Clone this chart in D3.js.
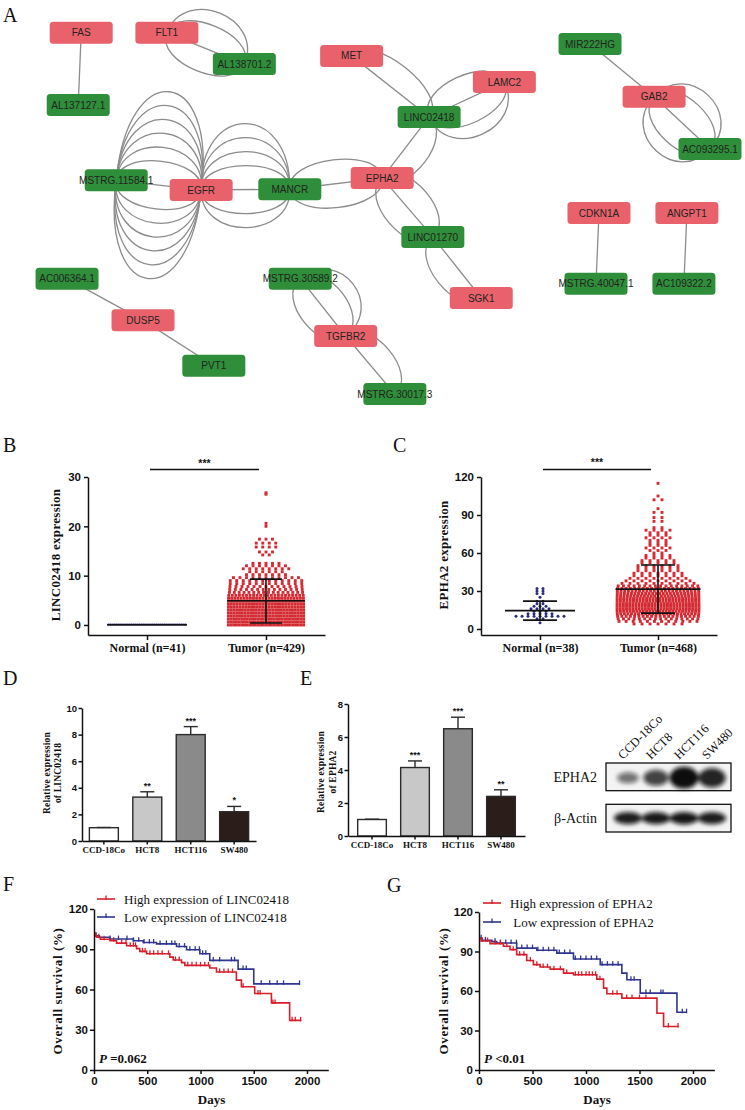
<!DOCTYPE html>
<html><head><meta charset="utf-8">
<script src="https://cdn.jsdelivr.net/npm/d3@7/dist/d3.min.js"></script>
<style>html,body{margin:0;padding:0;background:#fff}svg{display:block}</style>
</head><body>
<svg id="fig" width="745" height="1110" xmlns="http://www.w3.org/2000/svg"></svg>
<script>
// ================= DATA =================
const panelLetters = ["A","B","C","D","E","F","G"];

// ---- Panel A: lncRNA–mRNA network (layout coordinates, % of width) ----
const nodeNames = ["FAS","FLT1","AL138701.2","AL137127.1","MSTRG.11584.1","EGFR","MANCR","MET","LAMC2","LINC02418","EPHA2","LINC01270","SGK1","MIR222HG","GAB2","AC093295.1","CDKN1A","ANGPT1","MSTRG.40047.1","AC109322.2","AC006364.1","DUSP5","PVT1","MSTRG.30589.2","TGFBR2","MSTRG.30017.3"];
const nodeKinds = ["mRNA","mRNA","lncRNA","lncRNA","lncRNA","mRNA","lncRNA","mRNA","mRNA","lncRNA","mRNA","lncRNA","mRNA","lncRNA","mRNA","lncRNA","mRNA","mRNA","lncRNA","lncRNA","lncRNA","mRNA","lncRNA","lncRNA","mRNA","lncRNA"];
const nodeLayoutX = [10.9,22.4,32.8,10.5,15.6,27.0,38.9,47.2,67.7,57.6,51.3,58.1,64.6,79.2,87.8,95.3,80.4,92.2,80.0,91.8,9.0,19.2,28.7,40.3,46.4,53.0];
const nodeLayoutY = [4.4,4.4,8.6,14.1,24.2,25.5,25.4,7.5,11.0,15.7,23.9,31.8,40.0,5.9,13.0,20.0,28.6,28.6,38.1,38.1,37.4,43.0,49.1,37.4,45.1,52.9];
// [source, target, parallel-edge lane]
const edgeList = [
 ["FAS","AL137127.1",0],
 ["FLT1","AL138701.2",0],["FLT1","AL138701.2",-1],["FLT1","AL138701.2",-2],["FLT1","AL138701.2",1],
 ["MET","LINC02418",0],["MET","LINC02418",-1],
 ["LINC02418","LAMC2",0],["LINC02418","LAMC2",-1],["LINC02418","LAMC2",1],["LINC02418","LAMC2",2],
 ["LINC02418","EPHA2",0],["LINC02418","EPHA2",-1],
 ["MANCR","EPHA2",0],["MANCR","EPHA2",-1],["MANCR","EPHA2",1],
 ["EPHA2","LINC01270",0],["EPHA2","LINC01270",-1],["EPHA2","LINC01270",1],
 ["LINC01270","SGK1",0],["LINC01270","SGK1",1],
 ["MSTRG.11584.1","EGFR",0],
 ["MSTRG.11584.1","EGFR",1],["MSTRG.11584.1","EGFR",2],["MSTRG.11584.1","EGFR",3],["MSTRG.11584.1","EGFR",4],["MSTRG.11584.1","EGFR",5],["MSTRG.11584.1","EGFR",6],
 ["MSTRG.11584.1","EGFR",-1],["MSTRG.11584.1","EGFR",-2],["MSTRG.11584.1","EGFR",-3],["MSTRG.11584.1","EGFR",-4],["MSTRG.11584.1","EGFR",-5],["MSTRG.11584.1","EGFR",-6],
 ["EGFR","MANCR",0],["EGFR","MANCR",-1],["EGFR","MANCR",-2],["EGFR","MANCR",-3],["EGFR","MANCR",-4],["EGFR","MANCR",1],["EGFR","MANCR",2],
 ["MIR222HG","GAB2",0],
 ["GAB2","AC093295.1",0],["GAB2","AC093295.1",1],["GAB2","AC093295.1",2],["GAB2","AC093295.1",-1],["GAB2","AC093295.1",-2],
 ["CDKN1A","MSTRG.40047.1",0],
 ["ANGPT1","AC109322.2",0],
 ["AC006364.1","DUSP5",0],
 ["DUSP5","PVT1",0],
 ["MSTRG.30589.2","TGFBR2",0],["MSTRG.30589.2","TGFBR2",1],["MSTRG.30589.2","TGFBR2",-1],["MSTRG.30589.2","TGFBR2",-2],
 ["TGFBR2","MSTRG.30017.3",0],["TGFBR2","MSTRG.30017.3",-1]
];

// ---- Panel B: LINC02418 expression (value row, number of samples) ----
const bGroups = ["Normal (n=41)","Tumor (n=429)"];
const bTicks = [0,10,20,30];
const bNormalRows = [[0.08,41]];
const bTumorRows = [[0,29],[0.6,29],[1.2,29],[1.8,28],[2.4,28],[3.0,28],[3.6,27],[4.2,27],[4.8,26],[5.4,25],[6.0,22],[6.6,16],[7.2,14],[7.8,13],[8.4,12],[9.0,12],[9.6,11],[10.2,7],[10.8,6],[11.4,8],[12.0,7],[12.5,5],[14.2,2],[14.8,3],[15.8,4],[16.6,4],[17.4,3],[20.0,1],[20.6,1],[26.5,1],[26.8,1]];
const bStats = [[0.05,0.05,0.05],[4.9,0.4,9.3]]; // mean, mean-SD, mean+SD
const bSig = "***";

// ---- Panel C: EPHA2 expression ----
const cGroups = ["Normal (n=38)","Tumor (n=468)"];
const cTicks = [0,30,60,90,120];
const cNormalRows = [[32,2],[30,2],[28,2],[25,1],[22,2],[20,2],[18,3],[16,4],[14,3],[12,5],[10,9],[8,2],[5,1]];
const cTumorRows = [[4,7],[6,12],[8,16],[10,20],[12,24],[14,26],[16,27],[18,27],[20,27],[22,26],[24,26],[26,25],[28,24],[30,23],[32,20],[34,16],[36,10],[38,9],[40,8],[42,7],[44,7],[46,6],[48,6],[50,6],[52,5],[54,5],[56,4],[58,4],[60,2],[62,3],[64,4],[66,3],[68,3],[70,3],[72,4],[74,3],[76,3],[78,4],[80,2],[85,2],[88,2],[92,2],[95,1],[102,2],[105,1],[115,1]];
const cStats = [[14.5,7,22],[31.5,12.5,50.5]];
const cSig = "***";

// ---- Panels D / E: qRT-PCR in cell lines ----
const cellLines = ["CCD-18Co","HCT8","HCT116","SW480"];
const dTicks = [0,2,4,6,8,10];
const dValues = [1.0,3.3,8.0,2.2];
const dErrors = [0.02,0.4,0.6,0.4];
const dStars = ["","**","***","*"];
const eTicks = [0,2,4,6,8];
const eValues = [1.0,4.15,6.5,2.4];
const eErrors = [0.02,0.4,0.7,0.4];
const eStars = ["","***","***","**"];

// ---- Western blot band intensities (relative) ----
const blotRows = ["EPHA2","β-Actin"];
const epha2Bands = [0.35,0.65,1.0,0.85];
const actinBands = [0.9,0.92,0.94,0.9];

// ---- Panels F / G: Kaplan–Meier curves [day, survival %] ----
const kmTicksX = [0,500,1000,1500,2000];
const kmTicksY = [0,30,60,90,120];
const fHigh = [[0,100],[25,99],[60,97.5],[150,96.3],[212,94.6],[306,92.6],[400,90.5],[430,88.4],[494,86.6],[712,84.1],[744,82],[822,80],[853,78],[1087,76],[1150,73],[1337,67],[1384,62],[1509,57],[1666,50],[1837,37],[1947,37]];
const fHighCensor = [15,45,95,185,260,300,340,370,390,455,480,525,560,600,640,700,765,800,880,920,960,1000,1040,1075,1180,1220,1260,1300,1400,1540,1560,1680,1700,1860,1890,1940];
const fLow = [[0,100],[50,99],[150,97.6],[370,96.3],[462,95],[587,94],[775,92],[869,89.6],[994,86.6],[1087,81.7],[1353,75.2],[1500,64.2],[1931,64.2]];
const fLowCensor = [20,150,230,310,370,420,470,520,560,620,680,730,760,800,850,900,950,990,1020,1050,1120,1180,1290,1320,1400,1430,1570,1650,1720,1780,1930];
const fLegend = ["High expression of LINC02418","Low expression of LINC02418"];
const fP = "=0.062";
const gHigh = [[0,100],[20,98],[103,96],[228,94],[290,91.4],[352,87.6],[446,83.2],[508,80],[571,78.2],[665,76.6],[790,73.6],[883,72.3],[1101,69],[1164,62.2],[1195,57.9],[1335,54.6],[1663,43.1],[1725,33],[1866,33]];
const gHighCensor = [30,80,150,200,260,320,380,420,480,540,600,640,700,760,820,900,930,960,1000,1030,1060,1090,1130,1250,1290,1380,1430,1500,1560,1770,1860];
const gLow = [[0,100],[30,98.5],[120,97.5],[165,96.4],[352,92.6],[540,90.9],[727,88.8],[883,84.3],[1133,80],[1335,73.6],[1382,68.5],[1507,58.4],[1850,43.9],[1944,43.9]];
const gLowCensor = [20,60,150,200,250,300,350,400,450,500,550,600,650,700,750,800,850,900,950,1000,1050,1100,1150,1200,1250,1300,1420,1450,1560,1600,1700,1720,1900,1940];
const gLegend = ["High expression of EPHA2","\u00a0Low expression of EPHA2"];
const gP = "<0.01";

// ================= DRAWING =================
const SERIF = "'Liberation Serif','Times New Roman',Times,serif";
const SANS = "'Liberation Sans',Arial,Helvetica,sans-serif";
const RED = "#d42a32", NAVY = "#2e2e7e", KMRED = "#d81e2a", KMBLUE = "#2f3590";
const svg = d3.select('#fig');
svg.append('rect').attr('width',745).attr('height',1110).attr('fill','#fff');
const defs = svg.append('defs');
defs.append('filter').attr('id','blur').attr('x','-50%').attr('y','-80%').attr('width','200%').attr('height','260%')
  .append('feGaussianBlur').attr('stdDeviation',2.2);

// panel letters
const letterPos = {A:[3,22],B:[3,452],C:[393,452],D:[3,685],E:[300,685],F:[3,891],G:[387,892]};
svg.append('g').selectAll('text').data(panelLetters).join('text')
  .attr('x',l=>letterPos[l][0]).attr('y',l=>letterPos[l][1])
  .attr('font-family',SERIF).attr('font-size',20).attr('fill','#111').text(l=>l);

function styleAxis(g, fs, family, weight){
  g.select('path.domain').attr('stroke','#111').attr('stroke-width',1.5);
  g.selectAll('.tick line').attr('stroke','#111').attr('stroke-width',1.5);
  g.selectAll('.tick text').attr('font-family',family||SANS).attr('font-weight',weight||'bold')
    .attr('font-size',fs).attr('fill','#111');
}

// ---------- Panel A ----------
(function(){
  const ax = d3.scaleLinear([0,100],[0,745]);
  const ay = d3.scaleLinear([0,100],[0,745]);
  const pos = new Map(nodeNames.map((n,i)=>[n,[ax(nodeLayoutX[i]), ay(nodeLayoutY[i])]]));
  const g = svg.append('g');
  g.append('g').selectAll('path').data(edgeList).join('path')
    .attr('d',([s,t,k])=>{
      const [x1,y1]=pos.get(s),[x2,y2]=pos.get(t);
      const p = d3.path();
      p.moveTo(x1,y1);
      if(k===0){ p.lineTo(x2,y2); return p.toString(); }
      const dx=x2-x1, dy=y2-y1, L=Math.hypot(dx,dy);
      const ux=dx/L, uy=dy/L, px=-uy, py=ux;
      const dev = Math.sign(k)*(10+14*Math.abs(k));
      const h = dev/0.75, sp = 0.02*Math.abs(h);
      p.bezierCurveTo(x1+px*h-ux*sp, y1+py*h-uy*sp, x2+px*h+ux*sp, y2+py*h+uy*sp, x2, y2);
      return p.toString();
    })
    .attr('fill','none').attr('stroke','#8c8c8c').attr('stroke-width',1.3);
  const color = d3.scaleOrdinal(["mRNA","lncRNA"],["#e9626b","#2f8e39"]);
  const ng = g.append('g').selectAll('g').data(nodeNames).join('g')
    .attr('transform',n=>`translate(${pos.get(n)})`);
  ng.append('rect').attr('x',-31.5).attr('y',-11).attr('width',63).attr('height',22).attr('rx',3.5)
    .attr('fill',(n,i)=>color(nodeKinds[i]));
  ng.append('text').attr('text-anchor','middle').attr('dy','0.36em')
    .attr('font-family',SANS).attr('font-size',10).attr('fill','#222').text(n=>n);
})();

// ---------- Dot plots (B, C) ----------
function dotLayout(rows, cx, maxW, maxSp, yS){
  const pts=[];
  rows.forEach(([v,n])=>{
    const sp = Math.min(maxW/n, maxSp);
    for(let i=0;i<n;i++) pts.push({x: cx+(i-(n-1)/2)*sp, y: yS(v)});
  });
  return pts;
}
function dotPanel(cfg){
  const g = svg.append('g');
  const y = d3.scaleLinear(cfg.yDomain, cfg.yRange);
  const x = d3.scalePoint(cfg.groups, cfg.xRange).padding(cfg.pad);
  const nPts = dotLayout(cfg.normal, x(cfg.groups[0]), cfg.nW, cfg.nSp, y);
  g.append('g').selectAll('circle').data(nPts).join('circle')
    .attr('cx',d=>d.x).attr('cy',d=>d.y).attr('r',cfg.nR).attr('fill',NAVY);
  const tPts = dotLayout(cfg.tumor, x(cfg.groups[1]), cfg.tW, cfg.tSp, y);
  const s = cfg.sq;
  g.append('g').selectAll('rect').data(tPts).join('rect')
    .attr('x',d=>d.x-s/2).attr('y',d=>d.y-s/2).attr('width',s).attr('height',s).attr('fill',RED);
  cfg.stats.forEach(([m,lo,hi],i)=>{
    const cx = x(cfg.groups[i]), hw = cfg.meanHW[i], cw = cfg.capHW;
    const sg = g.append('g').attr('stroke','#111').attr('stroke-width',1.6);
    sg.append('line').attr('x1',cx-hw).attr('x2',cx+hw).attr('y1',y(m)).attr('y2',y(m));
    if(hi>lo){
      sg.append('line').attr('x1',cx).attr('x2',cx).attr('y1',y(lo)).attr('y2',y(hi));
      [lo,hi].forEach(v=>sg.append('line').attr('x1',cx-cw).attr('x2',cx+cw).attr('y1',y(v)).attr('y2',y(v)));
    }
  });
  const ga = g.append('g').attr('transform',`translate(${cfg.xRange[0]},0)`)
    .call(d3.axisLeft(y).tickValues(cfg.ticks).tickSize(4).tickSizeOuter(0).tickPadding(3));
  styleAxis(ga, 11.5);
  const gb = g.append('g').attr('transform',`translate(0,${cfg.yRange[0]})`)
    .call(d3.axisBottom(x).tickSize(5).tickSizeOuter(0).tickPadding(3));
  styleAxis(gb, 12, SERIF, 'bold');
  g.append('text').attr('transform',`translate(${cfg.labelX},${cfg.labelY}) rotate(-90)`)
    .attr('text-anchor','middle').attr('dy','0.35em').attr('font-family',SERIF).attr('font-weight','bold')
    .attr('font-size',13).attr('letter-spacing',0.3).attr('fill','#111').text(cfg.label);
  const sy = y(cfg.sigV);
  g.append('line').attr('x1',x(cfg.groups[0])+3).attr('x2',x(cfg.groups[1])-7).attr('y1',sy).attr('y2',sy)
    .attr('stroke','#111').attr('stroke-width',1.5);
  g.append('text').attr('x',(x(cfg.groups[0])+x(cfg.groups[1]))/2-2).attr('y',sy-3)
    .attr('text-anchor','middle').attr('font-family',SANS).attr('font-weight','bold').attr('font-size',10.5)
    .attr('fill','#111').text(cfg.sig);
}
dotPanel({groups:bGroups, ticks:bTicks, yDomain:[-2.03,30], yRange:[635,477], xRange:[88,325], pad:0.496,
  normal:bNormalRows, tumor:bTumorRows, nW:79, nSp:2, nR:1.2, tW:78, tSp:6.5, sq:2.9, stats:bStats,
  meanHW:[40,39], capHW:16, label:"LINC02418 expression", labelX:55, labelY:555, sigV:31.5, sig:bSig});
dotPanel({groups:cGroups, ticks:cTicks, yDomain:[-4.74,120], yRange:[635,477], xRange:[481,717], pad:0.5,
  normal:cNormalRows, tumor:cTumorRows, nW:60, nSp:6, nR:1.5, tW:85, tSp:8, sq:2.9, stats:cStats,
  meanHW:[35,42.5], capHW:17, label:"EPHA2 expression", labelX:443, labelY:555, sigV:126, sig:cSig});

// ---------- Bar panels (D, E) ----------
const barFill = d3.scaleOrdinal(cellLines,["#ffffff","#c8c8c8","#8a8a8a","#2b1d1a"]);
function barPanel(cfg){
  const g = svg.append('g');
  const y = d3.scaleLinear(cfg.yDomain, cfg.yRange);
  const x = d3.scaleBand(cellLines, cfg.xRange).paddingInner(0.333).paddingOuter(cfg.po);
  const bw = x.bandwidth();
  g.append('g').selectAll('rect').data(cellLines).join('rect')
    .attr('x',c=>x(c)).attr('y',(c,i)=>y(cfg.values[i])).attr('width',bw)
    .attr('height',(c,i)=>y(0)-y(cfg.values[i])).attr('fill',c=>barFill(c))
    .attr('stroke','#2a2a2a').attr('stroke-width',1.4);
  cellLines.forEach((c,i)=>{
    const cx = x(c)+bw/2, top = y(cfg.values[i]+cfg.errors[i]);
    const eg = g.append('g').attr('stroke','#2a2a2a').attr('stroke-width',1.4);
    eg.append('line').attr('x1',cx).attr('x2',cx).attr('y1',y(cfg.values[i])).attr('y2',top);
    eg.append('line').attr('x1',cx-7).attr('x2',cx+7).attr('y1',top).attr('y2',top);
    g.append('text').attr('x',cx).attr('y',top-3).attr('text-anchor','middle').attr('font-family',SANS)
      .attr('font-weight','bold').attr('font-size',9).attr('fill','#111').text(cfg.stars[i]);
  });
  const ga = g.append('g').attr('transform',`translate(${cfg.xRange[0]},0)`)
    .call(d3.axisLeft(y).tickValues(cfg.ticks).tickSize(3.5).tickSizeOuter(0).tickPadding(1.5));
  styleAxis(ga, 9.5);
  const gb = g.append('g').attr('transform',`translate(0,${cfg.yRange[0]})`)
    .call(d3.axisBottom(x).tickSize(3.5).tickSizeOuter(0).tickPadding(2));
  styleAxis(gb, 9, SERIF, 'bold');
  cfg.label.forEach((t,i)=>{
    g.append('text').attr('transform',`translate(${cfg.labelX[i]},${cfg.labelY}) rotate(-90)`)
      .attr('text-anchor','middle').attr('dy','0.35em').attr('font-family',SERIF).attr('font-weight','bold')
      .attr('font-size',9.5).attr('letter-spacing',0.2).attr('fill','#111').text(t);
  });
}
barPanel({values:dValues, errors:dErrors, stars:dStars, ticks:dTicks, yDomain:[0,10], yRange:[841,708],
  xRange:[82,256], po:0.17, label:["Relative expression","of LINC02418"], labelX:[47,57.5], labelY:773});
barPanel({values:eValues, errors:eErrors, stars:eStars, ticks:eTicks, yDomain:[0,8], yRange:[836,704],
  xRange:[348,525], po:0.225, label:["Relative expression","of EPHA2"], labelX:[321,333], labelY:772});

// ---------- Western blot ----------
(function(){
  const g = svg.append('g');
  const lane = d3.scaleBand(cellLines,[614,726]);
  const rowY = d3.scaleBand(blotRows,[763,832]).paddingInner(0.33);
  const boxX0 = 606, boxX1 = 731;
  blotRows.forEach(r=>{
    g.append('rect').attr('x',boxX0).attr('y',rowY(r)).attr('width',boxX1-boxX0).attr('height',rowY.bandwidth())
      .attr('fill','#f3f3f3').attr('stroke','#111').attr('stroke-width',1.3);
    g.append('text').attr('x',boxX0-9).attr('y',rowY(r)+rowY.bandwidth()/2).attr('dy','0.35em')
      .attr('text-anchor','end').attr('font-family',SERIF).attr('font-size',14).attr('fill','#111').text(r);
  });
  const bands = [epha2Bands, actinBands];
  const maxRy = [11, 6.5];
  const op = d3.scaleLinear([0,1],[0.35,1]);
  bands.forEach((arr,ri)=>{
    const cy = rowY(blotRows[ri]) + rowY.bandwidth()/2 + (ri===0?1:0);
    const ry = d3.scaleLinear([0,1],[2.5,maxRy[ri]]);
    const rx = d3.scaleLinear([0,1],[9,14.5]);
    g.append('g').attr('filter','url(#blur)').selectAll('ellipse').data(arr).join('ellipse')
      .attr('cx',(v,i)=>lane(cellLines[i])+lane.bandwidth()/2).attr('cy',cy)
      .attr('rx',v=>rx(v)).attr('ry',v=>ry(v)).attr('fill','#0e0e0e').attr('opacity',v=>op(v));
  });
  g.append('g').selectAll('text').data(cellLines).join('text')
    .attr('transform',c=>`translate(${lane(c)+lane.bandwidth()/2-5},${760}) rotate(-45)`)
    .attr('font-family',SERIF).attr('font-size',12.5).attr('fill','#111').text(c=>c);
})();

// ---------- Kaplan–Meier (F, G) ----------
function kmPanel(cfg){
  const g = svg.append('g');
  const x = d3.scaleLinear([0,2200], cfg.xRange);
  const y = d3.scaleLinear([0,120], cfg.yRange);
  const line = d3.line().x(d=>x(d[0])).y(d=>y(d[1])).curve(d3.curveStepAfter);
  const bis = d3.bisector(d=>d[0]).right;
  const sAt = (steps,t)=> steps[Math.max(0,bis(steps,t)-1)][1];
  [[cfg.low,cfg.lowC,KMBLUE],[cfg.high,cfg.highC,KMRED]].forEach(([steps,cens,col])=>{
    g.append('path').attr('d',line(steps)).attr('fill','none').attr('stroke',col).attr('stroke-width',1.6);
    g.append('g').selectAll('line').data(cens).join('line')
      .attr('x1',t=>x(t)).attr('x2',t=>x(t)).attr('y1',t=>y(sAt(steps,t))-3.5).attr('y2',t=>y(sAt(steps,t))+1)
      .attr('stroke',col).attr('stroke-width',1.3);
  });
  const ga = g.append('g').attr('transform',`translate(${cfg.xRange[0]},0)`)
    .call(d3.axisLeft(y).tickValues(kmTicksY).tickFormat(d3.format('d')).tickSize(4).tickSizeOuter(0).tickPadding(2));
  styleAxis(ga, 11.5);
  const gb = g.append('g').attr('transform',`translate(0,${cfg.yRange[0]})`)
    .call(d3.axisBottom(x).tickValues(kmTicksX).tickFormat(d3.format('d')).tickSize(4).tickSizeOuter(0).tickPadding(3));
  styleAxis(gb, 11.5);
  g.append('text').attr('transform',`translate(${cfg.labelX},991) rotate(-90)`).attr('text-anchor','middle')
    .attr('dy','0.35em').attr('font-family',SERIF).attr('font-weight','bold').attr('font-size',13)
    .attr('letter-spacing',0.6).attr('fill','#111').text("Overall survival (%)");
  g.append('text').attr('x',x(1000)+11).attr('y',1104).attr('text-anchor','middle').attr('font-family',SERIF)
    .attr('font-weight','bold').attr('font-size',13).attr('fill','#111').text("Days");
  const pt = g.append('text').attr('x',cfg.xRange[0]+5).attr('y',1063).attr('font-family',SERIF)
    .attr('font-weight','bold').attr('font-size',13).attr('fill','#111');
  pt.append('tspan').attr('font-style','italic').text("P");
  pt.append('tspan').text(" "+cfg.p);
  [KMRED,KMBLUE].forEach((col,i)=>{
    const ly = cfg.legY[i], lx = cfg.legX;
    g.append('line').attr('x1',lx).attr('x2',lx+18).attr('y1',ly).attr('y2',ly).attr('stroke',col).attr('stroke-width',1.6);
    g.append('line').attr('x1',lx+9).attr('x2',lx+9).attr('y1',ly-3.5).attr('y2',ly+1).attr('stroke',col).attr('stroke-width',1.3);
    g.append('text').attr('x',lx+27).attr('y',ly).attr('dy','0.35em').attr('font-family',SERIF)
      .attr('font-size',13).attr('fill','#111').text(cfg.legend[i]);
  });
}
kmPanel({xRange:[94,328.3], yRange:[1070,909], high:fHigh, highC:fHighCensor, low:fLow, lowC:fLowCensor,
  labelX:57.5, p:fP, legend:fLegend, legX:97, legY:[899,917]});
kmPanel({xRange:[479,714.4], yRange:[1070,912], high:gHigh, highC:gHighCensor, low:gLow, lowC:gLowCensor,
  labelX:443, p:gP, legend:gLegend, legX:483, legY:[903,922]});
</script>
</body></html>
